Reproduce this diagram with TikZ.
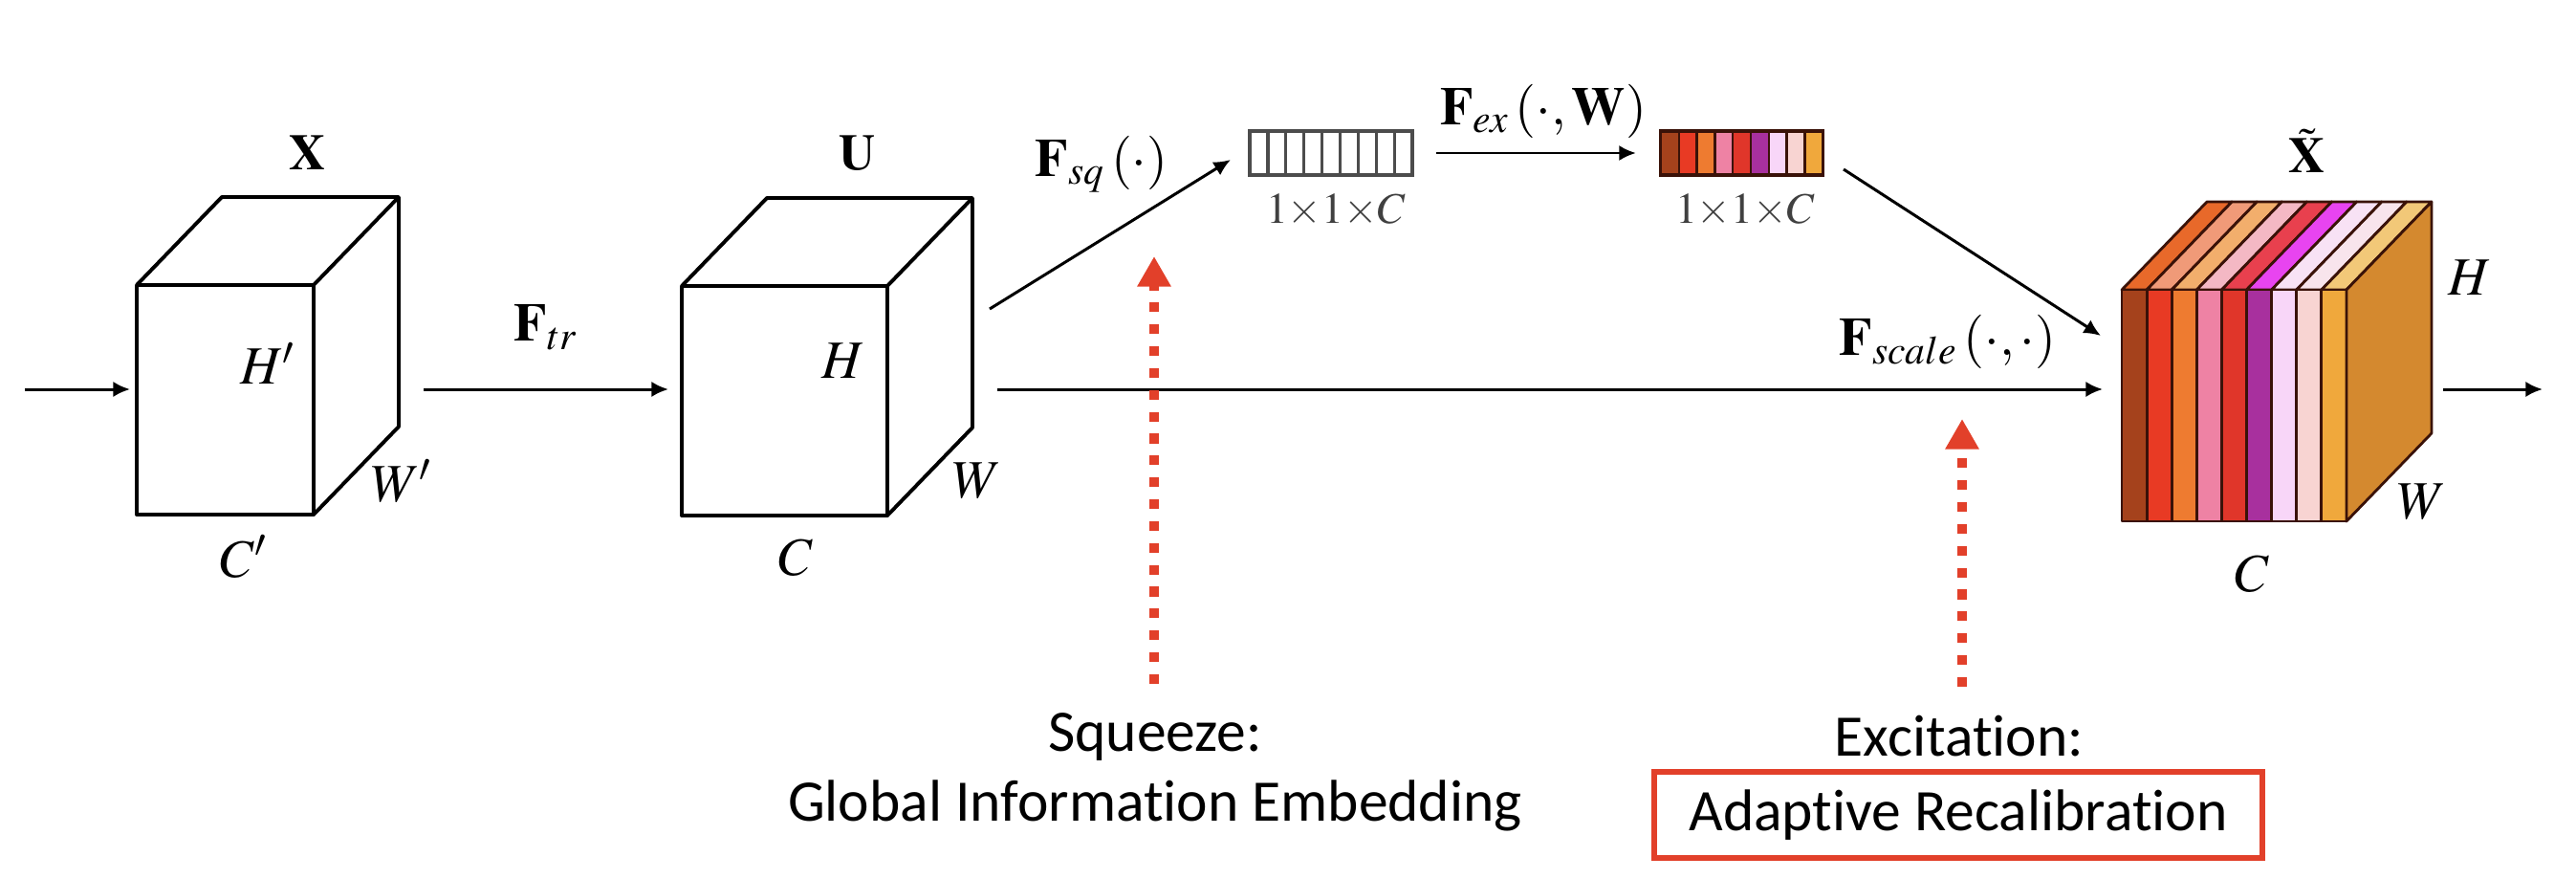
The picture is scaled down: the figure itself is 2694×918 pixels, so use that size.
\documentclass[tikz,border=0pt]{standalone}
\usepackage{mathptmx}
\usepackage[no-math]{fontspec}
\newfontfamily\calibri[Ligatures=NoCommon]{Carlito}
\usetikzlibrary{arrows.meta}

\definecolor{hintred}{HTML}{E2402A}
\definecolor{sideclr}{HTML}{D4892F}
\definecolor{edgeclr}{HTML}{3A1208}
\definecolor{c1}{HTML}{A5421C}
\definecolor{c2}{HTML}{E83A24}
\definecolor{c3}{HTML}{EE7B30}
\definecolor{c4}{HTML}{EE82A4}
\definecolor{c5}{HTML}{E0362A}
\definecolor{c6}{HTML}{A8309E}
\definecolor{c7}{HTML}{F8D6F8}
\definecolor{c8}{HTML}{F8D4D2}
\definecolor{c9}{HTML}{F0A83C}
\definecolor{t1}{HTML}{E8692A}
\definecolor{t2}{HTML}{F09A78}
\definecolor{t3}{HTML}{F2AE6C}
\definecolor{t4}{HTML}{F4B8C4}
\definecolor{t5}{HTML}{E8404E}
\definecolor{t6}{HTML}{E844F0}
\definecolor{t7}{HTML}{F8E2F5}
\definecolor{t8}{HTML}{F8E4EC}
\definecolor{t9}{HTML}{F2C878}

\tikzset{
  cubeline/.style={line width=1.1pt, line join=round},
  stripeline/.style={draw=edgeclr, line width=0.8pt, line join=round},
  flow/.style={line width=0.85pt, -{Latex[length=5pt,width=4.6pt]}},
  hint/.style={draw=hintred, line width=2.9pt, dash pattern=on 2.9pt off 3.6pt,
    -{Triangle[length=9pt,width=9.5pt,fill=hintred]}},
  setlbl/.style={font=\fontsize{15}{17}\selectfont},
  dimlbl/.style={font=\fontsize{16}{18}\selectfont},
  veclbl/.style={font=\fontsize{13}{15}\selectfont, text=black!75},
  caption/.style={font=\calibri\fontsize{17.5}{20}\selectfont},
  vecbox/.style={draw=black!70, line width=0.9pt, minimum width=1.7cm,
    minimum height=0.46cm, inner sep=0pt},
  cellline/.style={draw=black!70, line width=0.9pt}
}

\newcommand{\cdx}{89}
\newcommand{\cdy}{-92}
% plain cube: front top-left x, y, width, height (px, y runs down)
\newcommand{\wcube}[4]{%
  \draw[cubeline] (#1,#2) rectangle ({#1+#3},{#2+#4});
  \draw[cubeline] (#1,#2) -- ++(\cdx,\cdy) -- ++(#3,0) -- ++(0,#4) -- ({#1+#3},{#2+#4});
  \draw[cubeline] ({#1+#3},#2) -- ++(\cdx,\cdy);}
% striped cube: front top-left x, y, stripe width, height
\newcommand{\stripecube}[4]{%
  \foreach \i in {1,...,9}{%
    \pgfmathsetmacro{\sx}{#1+(\i-1)*#3}
    \filldraw[fill=t\i, stripeline] (\sx,#2) -- ++(#3,0) -- ++(\cdx,\cdy) -- ++(-#3,0) -- cycle;
    \filldraw[fill=c\i, stripeline] (\sx,#2) rectangle ++(#3,#4);}
  \pgfmathsetmacro{\ex}{#1+9*#3}
  \filldraw[fill=sideclr, stripeline] (\ex,#2) -- ++(\cdx,\cdy) -- ++(0,#4) -- ({\ex},{#2+#4}) -- cycle;}

\begin{document}
\begin{tikzpicture}[x=0.01cm, y=-0.01cm]
  \useasboundingbox (0,0) rectangle (2694,918);

  % feature maps
  \wcube{143}{298}{185}{240}
  \wcube{713}{299}{215}{240}
  \stripecube{2219}{303}{26.1}{242}

  \node[setlbl] (lX) at (322,160) {$\mathbf{X}$};
  \node[dimlbl] (lHa) at (280,380) {$H'$};
  \node[dimlbl] (lWa) at (420,503) {$W'$};
  \node[dimlbl] (lCa) at (255,582) {$C'$};

  \node[setlbl] (lU) at (897,160) {$\mathbf{U}$};
  \node[dimlbl] (lHb) at (882,377) {$H$};
  \node[dimlbl] (lWb) at (1022,503) {$W$};
  \node[dimlbl] (lCb) at (832,583) {$C$};

  \node[setlbl] (lXt) at (2413,158) {$\tilde{\mathbf{X}}$};
  \node[dimlbl] (lHc) at (2583,290) {$H$};
  \node[dimlbl] (lWc) at (2533,525) {$W$};
  \node[dimlbl] (lCc) at (2355,600) {$C$};

  % channel vectors
  \node[vecbox] (sqv) at (1392,160) {};
  \foreach \i in {1,...,8}{\draw[cellline] ({1307+\i*18.9},137) -- ++(0,46);}
  \foreach \i in {1,...,9}{\fill[c\i] ({1737+(\i-1)*18.8},137) rectangle ++(18.8,46);}
  \foreach \i in {1,...,8}{\draw[edgeclr, line width=0.7pt] ({1737+\i*18.8},137) -- ++(0,46);}
  \node[vecbox, draw=edgeclr] (exv) at (1821.5,160) {};
  \node[veclbl] (lsq) at (1397,220) {$1{\times}1{\times}C$};
  \node[veclbl] (lex) at (1825,220) {$1{\times}1{\times}C$};

  % connectors
  \coordinate (in) at (26,407);
  \coordinate (X-in) at (136,407);
  \coordinate (X-out) at (443,407);
  \coordinate (U-in) at (699,407);
  \coordinate (U-out) at (1043,407);
  \coordinate (U-sq) at (1035,323);
  \coordinate (sqv-in) at (1287,167);
  \coordinate (exv-out) at (1928,177);
  \coordinate (Xt-top) at (2197,351);
  \coordinate (Xt-in) at (2199,407);
  \coordinate (Xt-out) at (2555,407);
  \coordinate (out) at (2659,407);

  \draw[flow] (in) -- (X-in);
  \draw[flow] (X-out) -- node[dimlbl, above=8pt] (ltr) {$\mathbf{F}_{tr}$} (U-in);
  \draw[flow] (U-out) -- (Xt-in);
  \draw[flow] (U-sq) -- (sqv-in);
  \draw[flow, shorten <=2.3mm, shorten >=2.4mm] (sqv) -- (exv);
  \draw[flow] (exv-out) -- (Xt-top);
  \draw[flow] (Xt-out) -- (out);

  \node[dimlbl] (lfsq) at (1152,172) {$\mathbf{F}_{sq}\,(\cdot)$};
  \node[dimlbl] (lfex) at (1614,116) {$\mathbf{F}_{ex}\,(\cdot,\mathbf{W})$};
  \node[dimlbl] (lfsc) at (2037,357) {$\mathbf{F}_{scale}\,(\cdot,\cdot)$};

  % squeeze / excitation notes
  \node[caption] (sqz) at (1208,770) {Squeeze:};
  \node[caption] (sqzb) at (1208,842) {Global Information Embedding};
  \node[caption] (exc) at (2049,770) {Excitation:};
  \node[caption, draw=hintred, line width=1.7pt, minimum width=6.36cm,
    minimum height=0.9cm] (excb) at (2048,852) {Adaptive Recalibration};

  \coordinate (sqz-tip) at (1207,268);
  \coordinate (exc-tip) at (2052,438);
  \draw[hint] (1207,715) -- (sqz-tip);
  \draw[hint] (2052,718) -- (exc-tip);
\end{tikzpicture}
\end{document}
